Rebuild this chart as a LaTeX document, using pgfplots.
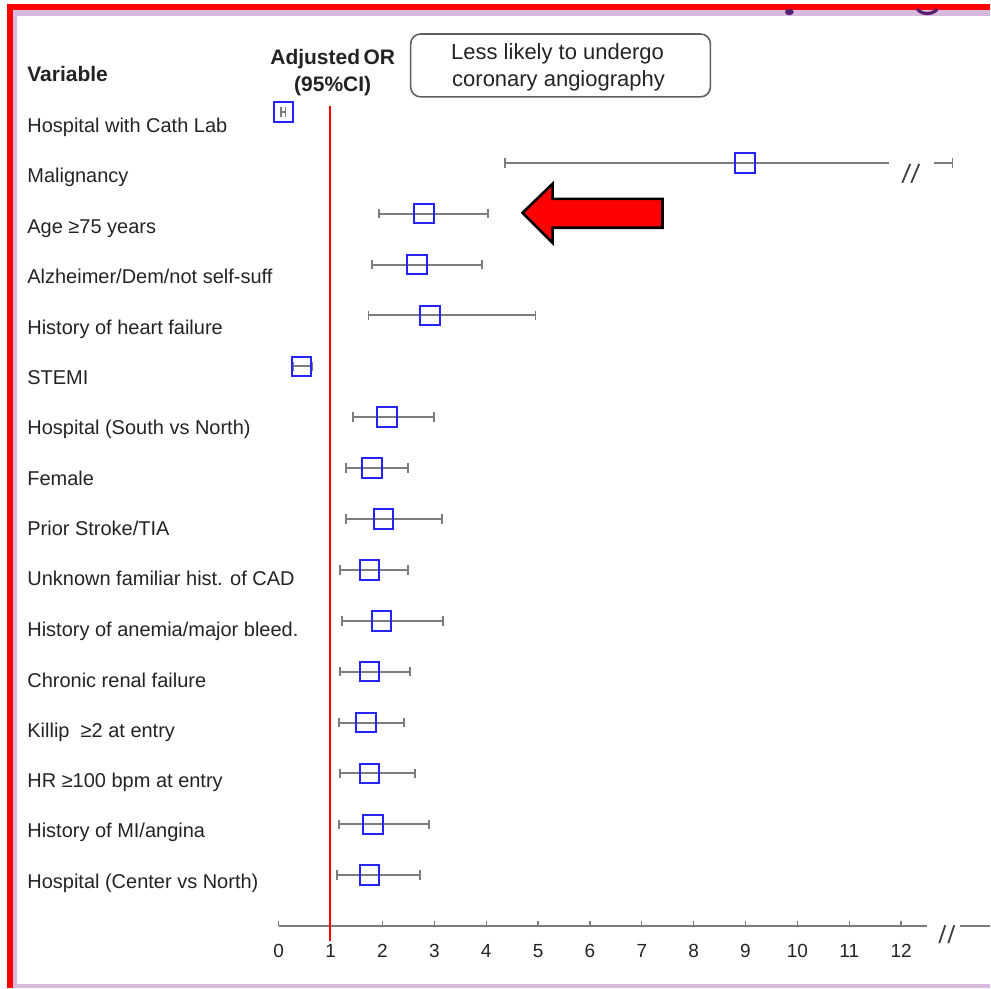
\documentclass[border=0pt]{standalone}
\usepackage{pgfplots}
\usepackage{pgfplotstable}
\pgfplotsset{compat=1.18}
\usepackage{fontspec}
\setmainfont{Liberation Sans}

\definecolor{lilac}{RGB}{215,186,222}
\definecolor{ciGray}{RGB}{125,125,125}
\definecolor{orBlue}{RGB}{35,35,250}
\definecolor{boxGray}{RGB}{95,95,95}
\definecolor{txt}{RGB}{35,35,35}
\definecolor{titlePurple}{RGB}{90,30,110}

% pixel -> axis coordinates
\newcommand\pxy[2]{(axis cs:{(#1-279)/51.9},{-(#2-61.07)/50.93})}

% row (negative, top = -1), odds ratio, lower and upper 95% CI
\pgfplotstableread{
row  or    lo    hi
-1   0.09  0.05  0.13
-3   2.80  1.93  4.03
-4   2.66  1.80  3.92
-5   2.92  1.73  4.95
-6   0.44  0.27  0.65
-7   2.09  1.43  3.00
-8   1.80  1.30  2.49
-9   2.02  1.30  3.14
-10  1.75  1.18  2.49
-11  1.98  1.22  3.17
-12  1.75  1.18  2.53
-13  1.68  1.16  2.42
-14  1.75  1.18  2.63
-15  1.82  1.16  2.90
-16  1.75  1.12  2.73
}\ortable

\begin{document}
\begin{tikzpicture}
\begin{axis}[
  x=25.95pt, y=25.465pt,
  xmin=0, xmax=13.72, ymin=-17, ymax=0,
  axis x line*=bottom, axis y line=none,
  x axis line style={draw=none},
  ytick=\empty,
  xtick={0,1,...,12},
  xtick align=inside,
  major tick length=2.8pt,
  xtick style={ciGray, line width=0.7pt},
  xticklabel style={font=\fontsize{9.5}{11}\selectfont, text=txt, yshift=-5.5pt},
  /pgf/number format/assume math mode=true,
  clip=false,
]
% picture frame / bounding box
\path \pxy{0}{0} rectangle \pxy{991}{989};
\fill[red] \pxy{7}{4} rectangle \pxy{991}{10};
\fill[red] \pxy{7}{4} rectangle \pxy{13}{989};
\fill[lilac] \pxy{13}{10} rectangle \pxy{991}{16};
\fill[lilac] \pxy{13}{10} rectangle \pxy{17}{989};
\fill[lilac] \pxy{13}{985} rectangle \pxy{991}{989};
\fill[titlePurple] \pxy{790}{12} ellipse [x radius=2.2pt, y radius=1.6pt];
\draw[titlePurple, line width=1.6pt] \pxy{918}{9} .. controls \pxy{922}{15} and \pxy{934}{15} .. \pxy{938}{9};

% x axis line with break
\draw[ciGray, line width=0.8pt] \pxy{279}{927} -- \pxy{928}{927};
\draw[ciGray, line width=0.8pt] \pxy{961}{927} -- \pxy{991}{927};
\draw[black!75, line width=0.9pt] \pxy{940}{944} -- \pxy{946}{926};
\draw[black!75, line width=0.9pt] \pxy{949}{944} -- \pxy{955}{926};

% reference line OR = 1
\draw[red, line width=0.8pt] \pxy{330}{106} -- \pxy{330}{942};

% headers
\begin{scope}[every node/.style={inner sep=0pt, text=txt}]
\path \pxy{27}{82} node[anchor=base west, font=\bfseries\fontsize{10.5}{12}\selectfont] {Variable};
\path \pxy{333}{65} node[anchor=base, font=\bfseries\fontsize{10.5}{12}\selectfont] {Adjusted\,OR};
\path \pxy{333}{92} node[anchor=base, font=\bfseries\fontsize{10.5}{12}\selectfont] {(95\%CI)};
\path \pxy{558}{60} node[anchor=base, font=\fontsize{11}{13}\selectfont] {Less likely to undergo};
\path \pxy{559}{87} node[anchor=base, font=\fontsize{11}{13}\selectfont] {coronary angiography};
\end{scope}
\draw[boxGray, line width=0.8pt, rounded corners=5pt] \pxy{411}{34} rectangle \pxy{711}{97};

% row labels
\begin{scope}[every node/.style={anchor=base west, font=\fontsize{10}{12}\selectfont, text=txt, inner sep=0pt}]
\path \pxy{27}{133} node {Hospital with Cath Lab};
\path \pxy{27}{183} node {Malignancy};
\path \pxy{27}{234} node {Age ≥75 years};
\path \pxy{27}{284} node {Alzheimer/Dem/not self-suff};
\path \pxy{27}{335} node {History of heart failure};
\path \pxy{27}{385} node {STEMI};
\path \pxy{27}{435} node {Hospital (South vs North)};
\path \pxy{27}{486} node {Female};
\path \pxy{27}{536} node {Prior Stroke/TIA};
\path \pxy{27}{586} node {Unknown familiar hist. of CAD};
\path \pxy{27}{637} node {History of anemia/major bleed.};
\path \pxy{27}{688} node {Chronic renal failure};
\path \pxy{27}{738} node {Killip \ ≥2 at entry};
\path \pxy{27}{788} node {HR ≥100 bpm at entry};
\path \pxy{27}{838} node {History of MI/angina};
\path \pxy{27}{889} node {Hospital (Center vs North)};
\end{scope}

% arrow
\draw[fill=red, draw=black, line width=1.3pt, line join=miter]
  \pxy{523}{213} -- \pxy{553}{184} -- \pxy{553}{199} -- \pxy{663}{199} -- \pxy{663}{228}
  -- \pxy{553}{228} -- \pxy{553}{243} -- cycle;

% confidence intervals
\addplot[draw=none, mark=none,
  error bars/.cd, x dir=both, x explicit, error mark=none,
  error bar style={ciGray, line width=1pt}]
  table[x=or, y=row,
        x error plus expr=\thisrow{hi}-\thisrow{or},
        x error minus expr=\thisrow{or}-\thisrow{lo}] {\ortable};
\addplot[only marks, mark=|, mark size=2.4pt, mark options={ciGray, line width=0.9pt}]
  table[x=lo, y=row] {\ortable};
\addplot[only marks, mark=|, mark size=2.4pt, mark options={ciGray, line width=0.9pt}]
  table[x=hi, y=row] {\ortable};

% malignancy (broken upper limit)
\addplot[ciGray, line width=1pt, mark=none] coordinates {(4.37,-2) (11.77,-2)};
\addplot[ciGray, line width=1pt, mark=none] coordinates {(12.64,-2) (12.99,-2)};
\addplot[only marks, mark=|, mark size=2.4pt, mark options={ciGray, line width=0.9pt}]
  coordinates {(4.37,-2) (12.99,-2)};
\draw[black!75, line width=0.9pt] \pxy{903}{183} -- \pxy{911}{164};
\draw[black!75, line width=0.9pt] \pxy{912}{183} -- \pxy{920}{164};

% odds ratios
\addplot[only marks, mark=square, mark size=4.9pt, mark options={orBlue, line width=1pt}]
  table[x=or, y=row] {\ortable};
\addplot[only marks, mark=square, mark size=4.9pt, mark options={orBlue, line width=1pt}]
  coordinates {(8.99,-2)};
\end{axis}
\end{tikzpicture}
\end{document}
